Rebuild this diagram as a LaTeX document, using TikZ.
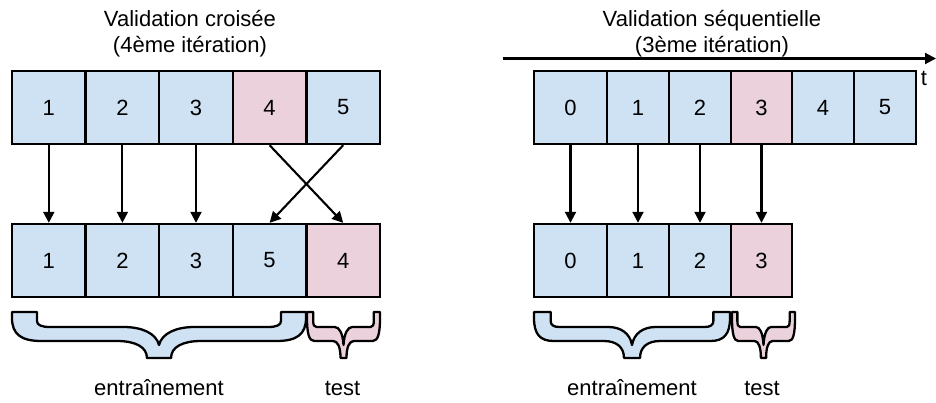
\documentclass[tikz,border=0pt]{standalone}
\usepackage{fontspec}
\setmainfont{Liberation Sans}
\usetikzlibrary{arrows.meta}
\definecolor{bluefill}{HTML}{CFE2F3}
\definecolor{pinkfill}{HTML}{EAD1DC}
\tikzset{
  lbl/.style={font=\fontsize{22}{26}\selectfont, inner sep=0pt, anchor=base},
  cell/.style={draw, line width=2.4pt, minimum height=73pt, inner sep=0pt, font=\fontsize{22}{26}\selectfont},
  bcell/.style={cell, fill=bluefill},
  pcell/.style={cell, fill=pinkfill},
  arr/.style={line width=2.1pt, -{Triangle[length=11pt,width=11pt]}},
  bracestyle/.style={draw, line width=2.3pt, line join=round}
}
\newcommand\mybrace[3]{%
  \begin{scope}[shift={(#1,0)}, xscale=#2]
    \draw[bracestyle, fill=#3] (0,312) -- (0,318) .. controls (0,334) and (0.03,341) .. (0.1,341)
      -- (0.357,341) .. controls (0.42,341) and (0.459,347) .. (0.459,358)
      -- (0.541,358) .. controls (0.541,347) and (0.58,341) .. (0.643,341)
      -- (0.9,341) .. controls (0.97,341) and (1,334) .. (1,318)
      -- (1,312) -- (0.915,312) -- (0.915,321) .. controls (0.915,325) and (0.9,327) .. (0.87,327)
      -- (0.62,327) .. controls (0.56,327) and (0.51,333) .. (0.5,345)
      .. controls (0.49,333) and (0.44,327) .. (0.38,327)
      -- (0.13,327) .. controls (0.1,327) and (0.085,325) .. (0.085,321)
      -- (0.085,312) -- cycle;
  \end{scope}}
\begin{document}
\begin{tikzpicture}[x=1pt, y=-1pt]
\useasboundingbox (0,0) rectangle (936,402);

% left titles
\node[lbl] (lt1) at (190,26) {Validation croisée};
\node[lbl] (lt2) at (190,52) {(4ème itération)};

% left top row
\node[bcell, minimum width=73.6pt] (a1) at (48.8,107.5) {1};
\node[bcell, minimum width=73.6pt] (a2) at (122.4,107.5) {2};
\node[bcell, minimum width=73.6pt] (a3) at (196,107.5) {3};
\node[pcell, minimum width=73.6pt] (a4) at (269.6,107.5) {4};
\node[bcell, minimum width=73.6pt] (a5) at (343.2,107.5) {5};

% left bottom row
\node[bcell, minimum width=73.6pt] (b1) at (48.8,260.5) {1};
\node[bcell, minimum width=73.6pt] (b2) at (122.4,260.5) {2};
\node[bcell, minimum width=73.6pt] (b3) at (196,260.5) {3};
\node[bcell, minimum width=73.6pt] (b4) at (269.6,260.5) {5};
\node[pcell, minimum width=73.6pt] (b5) at (343.2,260.5) {4};

\draw[arr] (a1.south) -- (b1.north);
\draw[arr] (a2.south) -- (b2.north);
\draw[arr] (a3.south) -- (b3.north);
\draw[arr] (a4.south) -- (b5.north);
\draw[arr] (a5.south) -- (b4.north);

\mybrace{12}{294}{bluefill}
\mybrace{307}{73}{pinkfill}
\node[lbl] (ltrain) at (159,395) {entraînement};
\node[lbl] (ltest) at (342.5,395) {test};

% right titles
\node[lbl] (rt1) at (712,26) {Validation séquentielle};
\node[lbl] (rt2) at (712,52) {(3ème itération)};

% time axis
\coordinate (ts) at (503,58.5);
\coordinate (te) at (936,58.5);
\draw[arr] (ts) -- (te);
\node[lbl] (tl) at (924,85) {t};

% right top row
\node[bcell, minimum width=73pt] (c0) at (570.5,107.5) {0};
\node[bcell, minimum width=62pt] (c1) at (638,107.5) {1};
\node[bcell, minimum width=62pt] (c2) at (700,107.5) {2};
\node[pcell, minimum width=61pt] (c3) at (761.5,107.5) {3};
\node[bcell, minimum width=62pt] (c4) at (823,107.5) {4};
\node[bcell, minimum width=62pt] (c5) at (885,107.5) {5};

% right bottom row
\node[bcell, minimum width=73pt] (d0) at (570.5,260.5) {0};
\node[bcell, minimum width=62pt] (d1) at (638,260.5) {1};
\node[bcell, minimum width=62pt] (d2) at (700,260.5) {2};
\node[pcell, minimum width=61pt] (d3) at (761.5,260.5) {3};

\draw[arr] (c0.south) -- (d0.north);
\draw[arr] (c1.south) -- (d1.north);
\draw[arr] (c2.south) -- (d2.north);
\draw[arr] (c3.south) -- (d3.north);

\mybrace{534}{196}{bluefill}
\mybrace{732}{63}{pinkfill}
\node[lbl] (rtrain) at (632,395) {entraînement};
\node[lbl] (rtest) at (762,395) {test};
\end{tikzpicture}
\end{document}
